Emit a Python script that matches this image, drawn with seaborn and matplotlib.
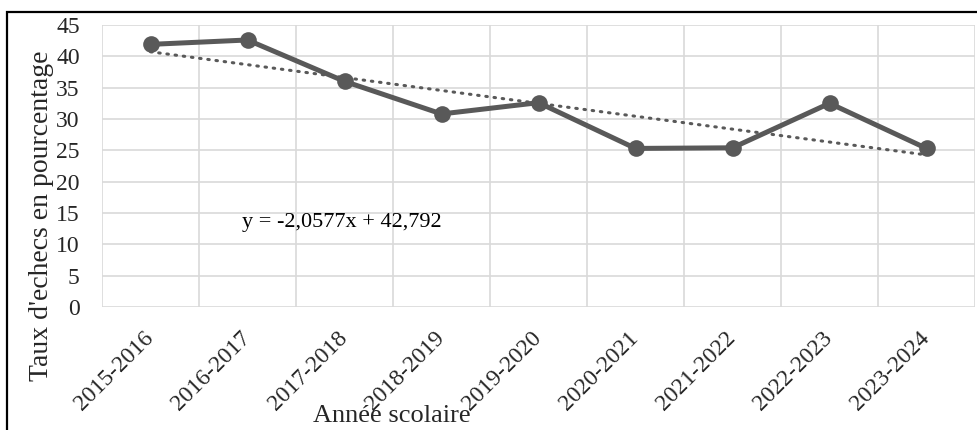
import numpy as np
import pandas as pd
import matplotlib
matplotlib.use('Agg')
import matplotlib.pyplot as plt
from matplotlib.patches import Rectangle
import seaborn as sns

# Data
annees = ['2015-2016', '2016-2017', '2017-2018', '2018-2019', '2019-2020',
          '2020-2021', '2021-2022', '2022-2023', '2023-2024']
taux_echec = [41.9, 42.6, 36.0, 30.8, 32.6, 25.3, 25.4, 32.5, 25.3]
equation = 'y = -2,0577x + 42,792'
y_ticks = [0, 5, 10, 15, 20, 25, 30, 35, 40, 45]

sns.set_style('white')
plt.rcParams['font.family'] = ['Liberation Serif', 'DejaVu Serif']

df = pd.DataFrame({'pos': np.arange(len(annees)), 'taux': taux_echec})
# linear trend (Excel numbers x from 1)
slope, intercept = np.polyfit(df['pos'] + 1, df['taux'], 1)
df['trend'] = slope * (df['pos'] + 1) + intercept

fig = plt.figure(figsize=(9.78, 4.30), dpi=100)
ax = fig.add_axes([0.1043, 0.286, 0.8927, 0.656])

grey = '#595959'
sns.lineplot(data=df, x='pos', y='trend', ax=ax, color=grey, linewidth=2.2,
             linestyle=(0, (0.5, 2.2)), dash_capstyle='round', zorder=3)
sns.lineplot(data=df, x='pos', y='taux', ax=ax, color=grey, linewidth=3.6,
             marker='o', markersize=12, markeredgewidth=0, zorder=4)

ax.set_xlim(-0.5, len(annees) - 0.5)
ax.set_ylim(0, 45)
ax.set_yticks(y_ticks)
ax.set_xticks(df['pos'])
ax.set_xticklabels(annees, rotation=45, ha='right', va='center', rotation_mode='anchor')
ax.set_xticks(np.arange(-0.5, len(annees)), minor=True)

ax.grid(False)
ax.grid(True, which='minor', axis='x', color='#d9d9d9', linewidth=1.2)
ax.grid(True, which='major', axis='y', color='#d9d9d9', linewidth=1.2)
ax.set_axisbelow(True)
for s in ax.spines.values():
    s.set_visible(False)

ax.tick_params(axis='y', length=0, pad=16, labelsize=17)
ax.tick_params(axis='x', which='both', length=0, labelsize=17)
ax.tick_params(axis='x', which='major', pad=20)

ax.set_xlabel('')
ax.set_ylabel('')
fig.text(42 / 978, 1 - 216 / 430, "Taux d'echecs en pourcentage", fontsize=20,
         rotation=90, ha='center', va='center')
fig.text(392 / 978, 0.032, 'Année scolaire', fontsize=19, ha='center', va='center')

ax.text(1.97, 13.5, equation, fontsize=16, ha='center', va='center', color='black')

# outer chart border (cut by the image edge on the right and bottom)
fig.patches.append(Rectangle((7 / 978, -0.05), 1.05, 1 - 12 / 430 + 0.05,
                             transform=fig.transFigure, fill=False,
                             edgecolor='black', linewidth=1.6))

fig.savefig('out.png', dpi=100)
